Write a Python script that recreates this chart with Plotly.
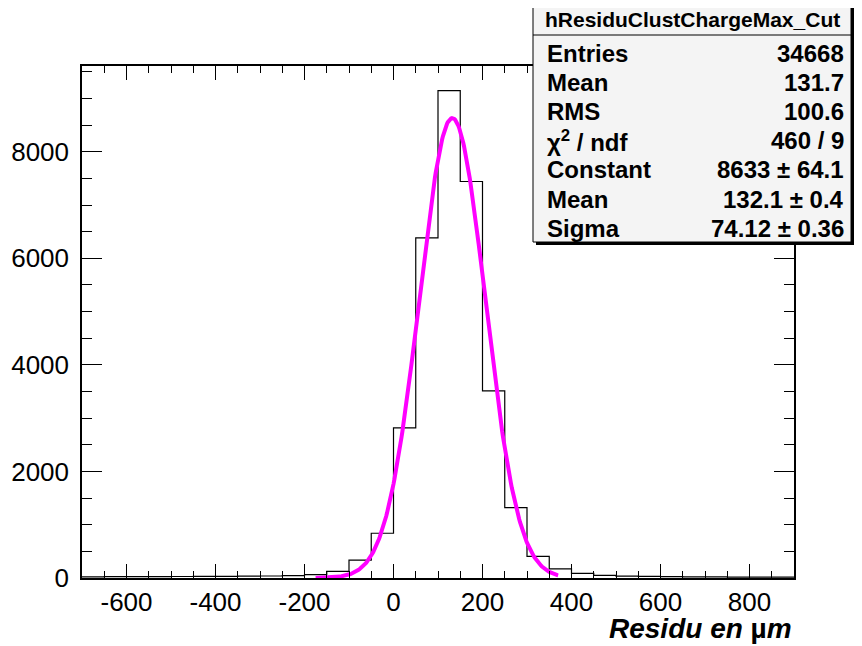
import numpy as np
import plotly.graph_objects as go

# histogram: bins of 50 um from -700 to 900
bin_lo = -700
bin_width = 50
counts = [22, 24, 26, 26, 28, 30, 32, 35, 38, 45, 65, 125, 335, 840,
          2817, 6385, 9146, 7442, 3512, 1320, 405, 170, 85, 50,
          35, 30, 25, 22, 20, 18, 15, 15]

# gaussian fit result
fit_const = 8633
fit_mean = 132.1
fit_sigma = 74.12
fit_range = [-175, 370]

x_ticks = [-600, -400, -200, 0, 200, 400, 600, 800]
x_tick_text = ["-600", "-400", "-200", "0", "200", "400", "600", "800"]
y_ticks = [0, 2000, 4000, 6000, 8000]

stats_title = "hResiduClustChargeMax_Cut"
stats_labels = ["Entries", "Mean", "RMS", "χ<sup>2</sup> / ndf", "Constant", "Mean", "Sigma"]
stats_values = ["34668", "131.7", "100.6", "460 / 9", "8633 ± 64.1", "132.1 ± 0.4", "74.12 ± 0.36"]

# the page body has an 8px margin, so work in reference pixels and shift
OFF = 8
W, H = 862 - OFF, 646 - OFF
L, R, T, B = 82, 794, 66, 578
FONT = "Liberation Sans"


def px_x(px):
    return (px - L) / (R - L)


def px_y(py):
    return (B - py) / (B - T)


edges = [bin_lo + i * bin_width for i in range(len(counts) + 1)]
step_y = counts + [counts[-1]]

xf = np.linspace(fit_range[0], fit_range[1], 300)
yf = fit_const * np.exp(-0.5 * ((xf - fit_mean) / fit_sigma) ** 2)

fig = go.Figure()
fig.add_trace(go.Scatter(x=edges, y=step_y, mode="lines", line_shape="hv",
                         line=dict(color="black", width=1.2), hoverinfo="skip"))
fig.add_trace(go.Scatter(x=xf, y=yf, mode="lines",
                         line=dict(color="#ff00ff", width=4), hoverinfo="skip"))

axis_common = dict(showline=True, linecolor="black", linewidth=1.5, mirror="ticks",
                   showgrid=False, zeroline=False, ticks="inside", tickcolor="black",
                   automargin=False,
                   tickfont=dict(family=FONT, size=26, color="black"))

fig.update_xaxes(range=[-700, 900], tickvals=x_ticks, ticktext=x_tick_text,
                 ticklen=14, tickwidth=1.3, ticklabelstandoff=0,
                 minor=dict(dtick=50, tick0=0, ticks="inside", ticklen=7, tickcolor="black", tickwidth=1.3),
                 **axis_common)
fig.update_yaxes(range=[0, 9610], tickvals=y_ticks,
                 ticklen=20, tickwidth=1.3, ticklabelstandoff=6,
                 minor=dict(dtick=500, tick0=0, ticks="inside", ticklen=10, tickcolor="black", tickwidth=1.3),
                 **axis_common)

# stats box with shadow
bx0, bx1, by0, by1 = 533, 851, 3, 242
shapes = [
    dict(type="rect", xref="paper", yref="paper", layer="above",
         x0=px_x(bx0 + 3), x1=px_x(bx1 + 3), y0=px_y(by1 + 3), y1=px_y(by0 + 3),
         fillcolor="black", line=dict(width=0)),
    dict(type="rect", xref="paper", yref="paper", layer="above",
         x0=px_x(bx0), x1=px_x(bx1), y0=px_y(by1), y1=px_y(by0),
         fillcolor="#f4f4f4", line=dict(color="black", width=1)),
    dict(type="line", xref="paper", yref="paper", layer="above",
         x0=px_x(bx0), x1=px_x(bx1), y0=px_y(35), y1=px_y(35),
         line=dict(color="black", width=1)),
]

annotations = [
    dict(text="<b>" + stats_title + "</b>", xref="paper", yref="paper",
         x=px_x((bx0 + bx1) / 2), y=px_y(19), xanchor="center", yanchor="middle",
         showarrow=False, font=dict(family=FONT, size=21, color="black")),
    dict(text="<b><i>Residu en </i></b><b>µ</b><b><i>m</i></b>", xref="paper", yref="paper",
         x=1.0, y=px_y(628), xanchor="right", yanchor="middle",
         showarrow=False, font=dict(family=FONT, size=28, color="black")),
]
row_y0, row_dy = 53, 29.2
for i, (lab, val) in enumerate(zip(stats_labels, stats_values)):
    yy = px_y(row_y0 + i * row_dy)
    annotations.append(dict(text="<b>" + lab + "</b>", xref="paper", yref="paper",
                            x=px_x(545), y=yy, xanchor="left", yanchor="middle",
                            showarrow=False, font=dict(family=FONT, size=24, color="black")))
    annotations.append(dict(text="<b>" + val + "</b>", xref="paper", yref="paper",
                            x=px_x(846), y=yy, xanchor="right", yanchor="middle",
                            showarrow=False, font=dict(family=FONT, size=24, color="black")))

fig.update_layout(width=W, height=H,
                  margin=dict(l=L - OFF, r=862 - R, t=T - OFF, b=646 - B),
                  paper_bgcolor="white", plot_bgcolor="white", showlegend=False,
                  shapes=shapes, annotations=annotations)

fig.write_html("out.html")
